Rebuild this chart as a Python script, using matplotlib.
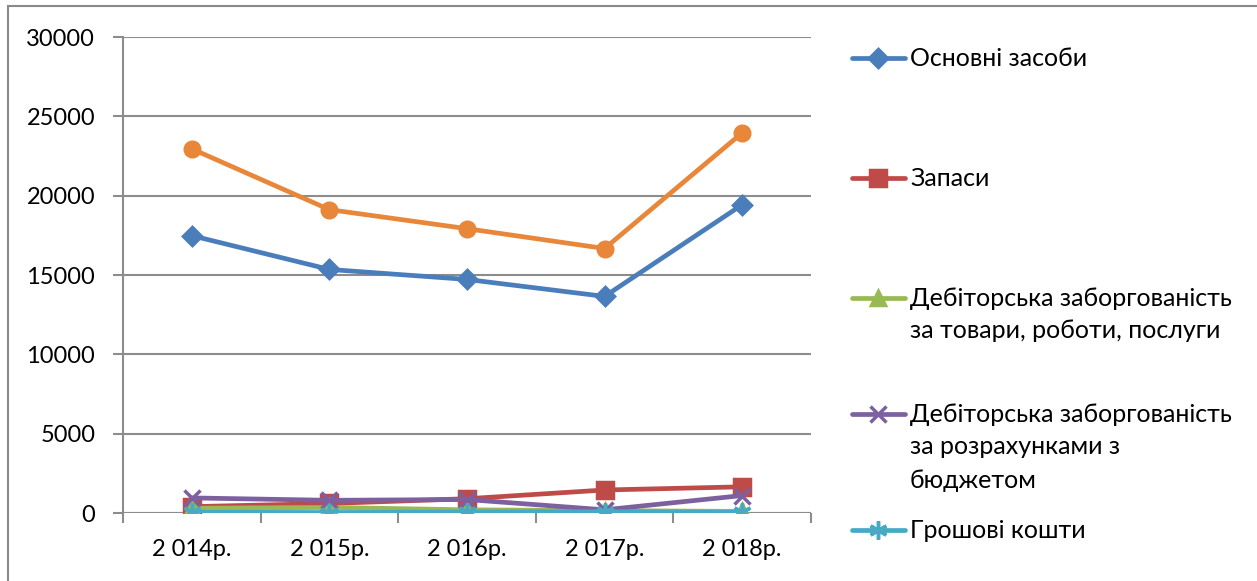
import numpy as np
import matplotlib.pyplot as plt
from matplotlib.lines import Line2D
from matplotlib.patches import Rectangle

plt.rcParams['font.family'] = ['Lato', 'DejaVu Sans']

years = ['2 014р.', '2 015р.', '2 016р.', '2 017р.', '2 018р.']

osnovni = [17480, 15350, 14720, 13650, 19430]
zapasy = [400, 600, 900, 1450, 1650]
deb_tovary = [300, 350, 200, 150, 100]
deb_budget = [950, 800, 850, 200, 1100]
groshi = [50, 30, 60, 80, 40]
razom = [22950, 19120, 17920, 16670, 23960]

labels = [
    ['Основні засоби'],
    ['Запаси'],
    ['Дебіторська заборгованість', 'за товари, роботи, послуги'],
    ['Дебіторська заборгованість', 'за розрахунками з', 'бюджетом'],
    ['Грошові кошти'],
]

W, H = 1257, 581
fig = plt.figure(figsize=(W / 100, H / 100), dpi=100)
fig.patch.set_facecolor('white')

# outer frame of the chart area (runs off the right and bottom edges)
fig.add_artist(Rectangle((8 / W, -0.1), 1.2, (1 - 6 / H) + 0.1,
                         transform=fig.transFigure, fill=False,
                         edgecolor='#8a8a8a', lw=1.5, zorder=1))

ax = fig.add_axes([123 / W, 1 - 513 / H, (811 - 123) / W, (513 - 37) / H])
ax.set_facecolor('none')
x = np.arange(len(years))

series = [
    (osnovni, '#4A7EBB', 'D', 9),
    (zapasy, '#BE4B48', 's', 11),
    (deb_tovary, '#98B954', '^', 10),
    (deb_budget, '#7D60A0', 'x', 11),
    (groshi, '#46AAC5', (6, 2, 0), 13),
]
for vals, c, m, ms in series:
    ax.plot(x, vals, color=c, lw=3.4, marker=m, ms=ms, mew=2.5,
            mec=c, mfc=c, zorder=3, solid_capstyle='round')
ax.plot(x, razom, color='#E8873A', lw=3.4, marker='o', ms=12,
        mfc='#E8873A', mec='#E8873A', zorder=3)

ax.set_xlim(-0.5, 4.5)
ax.set_ylim(0, 30000)
ax.set_yticks(range(0, 30001, 5000))
ax.yaxis.grid(True, color='#8c8c8c', lw=1.5)
ax.set_axisbelow(True)
for s in ['top', 'right', 'bottom']:
    ax.spines[s].set_visible(False)
ax.spines['left'].set_color('#8c8c8c')
ax.spines['left'].set_linewidth(1.5)
ax.axhline(0, color='#8c8c8c', lw=1.5, zorder=2)

ax.set_xticks(x)
ax.set_xticklabels(years)
ax.set_xticks(np.arange(-0.5, 5, 1), minor=True)
ax.tick_params(axis='x', which='major', length=0, pad=19, labelsize=17)
ax.tick_params(axis='x', which='minor', length=7, width=1.5, color='#8c8c8c')
ax.tick_params(axis='y', length=7, width=1.5, color='#8c8c8c', pad=13,
               labelsize=17)

# legend drawn by hand on the right
entry_y = [58, 178, 298, 414, 530]
for (vals, c, m, ms), lines, yy in zip(series, labels, entry_y):
    fy = 1 - yy / H
    fig.add_artist(Line2D([852 / W, 905 / W], [fy, fy], color=c, lw=3.4,
                          solid_capstyle='round', transform=fig.transFigure))
    fig.add_artist(Line2D([878 / W], [fy], marker=m, ms=ms, mew=2.5,
                          color=c, mfc=c, mec=c, transform=fig.transFigure))
    for i, line in enumerate(lines):
        fig.text(910 / W, 1 - (yy + i * 33) / H, line, fontsize=18,
                 ha='left', va='center')

fig.savefig('out.png', dpi=100)
